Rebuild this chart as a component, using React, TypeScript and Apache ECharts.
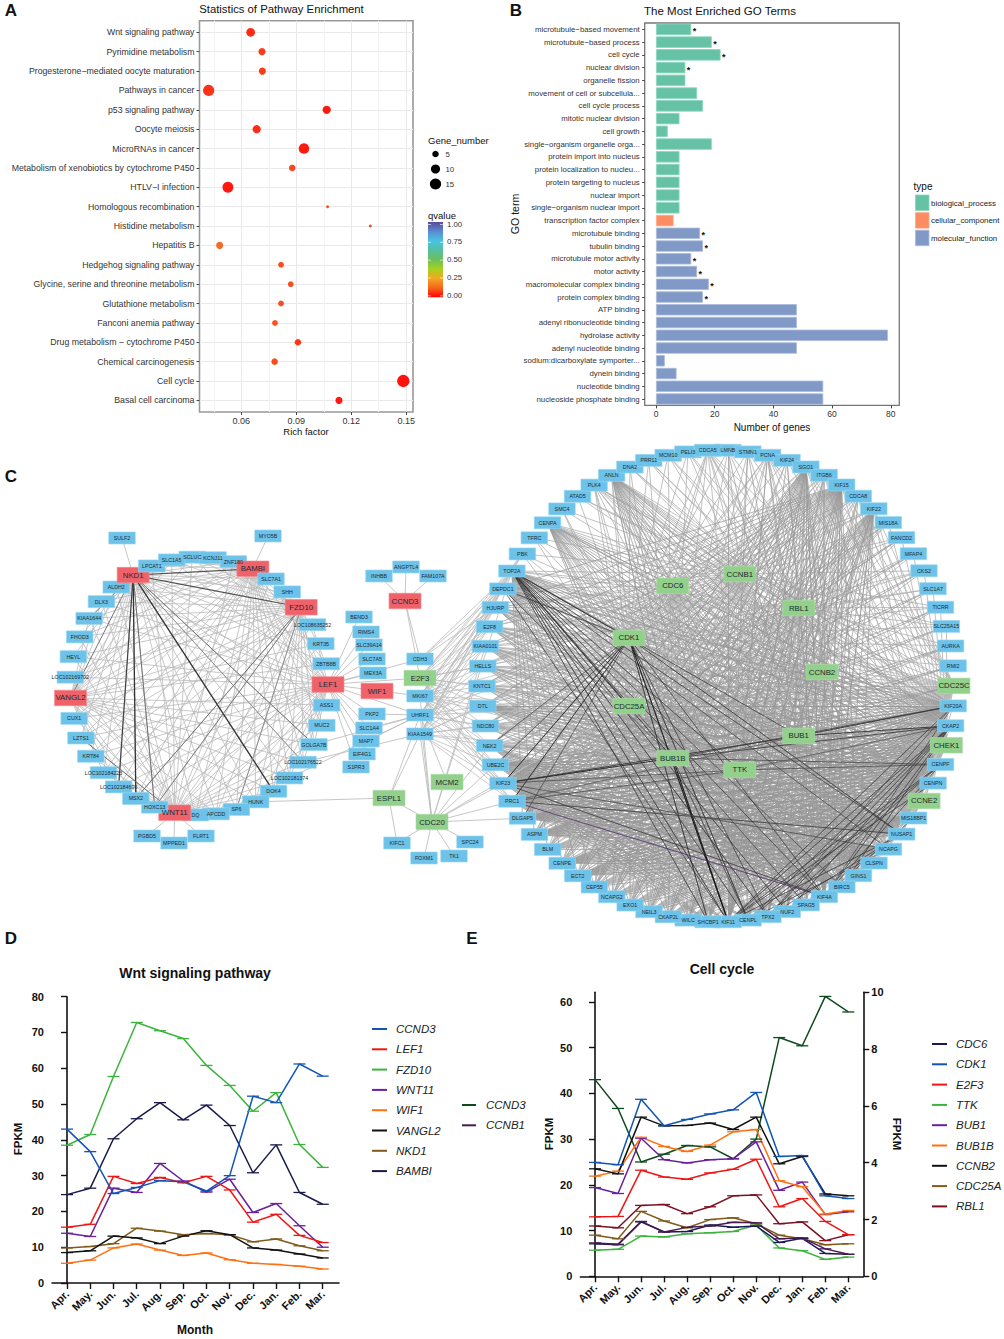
import React, { useEffect, useRef } from "react";
import * as echarts from "echarts";

const FONT = "'Liberation Sans', Arial, sans-serif";

// ---------- Panel A ----------
const pathways = ["Wnt signaling pathway","Pyrimidine metabolism","Progesterone−mediated oocyte maturation","Pathways in cancer","p53 signaling pathway","Oocyte meiosis","MicroRNAs in cancer","Metabolism of xenobiotics by cytochrome P450","HTLV−I infection","Homologous recombination","Histidine metabolism","Hepatitis B","Hedgehog signaling pathway","Glycine, serine and threonine metabolism","Glutathione metabolism","Fanconi anemia pathway","Drug metabolism − cytochrome P450","Chemical carcinogenesis","Cell cycle","Basal cell carcinoma"];
const richFactor = [0.0651,0.0713,0.0715,0.0422,0.1066,0.0684,0.0942,0.0878,0.0527,0.1071,0.1304,0.0482,0.0817,0.087,0.0817,0.0784,0.0909,0.0782,0.1484,0.1133];
const geneNumber = [9,6,6,15,8,8,13,5,14,1,1,6,4,4,4,4,5,5,18,6];
const qValue = [0.04,0.06,0.06,0.05,0.015,0.04,0.015,0.075,0.015,0.08,0.08,0.12,0.085,0.085,0.085,0.09,0.055,0.08,0.008,0.015];
const richTicks = [0.06,0.09,0.12,0.15];
const richMinorTicks = [0.045,0.075,0.105,0.135];

// ---------- Panel B ----------
const goTerms = ["microtubule−based movement","microtubule−based process","cell cycle","nuclear division","organelle fission","movement of cell or subcellula...","cell cycle process","mitotic nuclear division","cell growth","single−organism organelle orga...","protein import into nucleus","protein localization to nucleu...","protein targeting to nucleus","nuclear import","single−organism nuclear import","transcription factor complex","microtubule binding","tubulin binding","microtubule motor activity","motor activity","macromolecular complex binding","protein complex binding","ATP binding","adenyl ribonucleotide binding","hydrolase activity","adenyl nucleotide binding","sodium:dicarboxylate symporter...","dynein binding","nucleotide binding","nucleoside phosphate binding"];
const goCounts = [12,19,22,10,10,14,16,8,4,19,8,8,8,8,8,6,15,16,12,14,18,16,48,48,79,48,3,7,57,57];
const goTypes = ["bp","bp","bp","bp","bp","bp","bp","bp","bp","bp","bp","bp","bp","bp","bp","cc","mf","mf","mf","mf","mf","mf","mf","mf","mf","mf","mf","mf","mf","mf"];
const goStarred = [1,1,1,1,0,0,0,0,0,0,0,0,0,0,0,0,1,1,1,1,1,1,0,0,0,0,0,0,0,0];
const goTicks = [0,20,40,60,80];

// ---------- Panels D and E ----------
const months = ["Apr.","May.","Jun.","Jul.","Aug.","Sep.","Oct.","Nov.","Dec.","Jan.","Feb.","Mar."];
const monthIndex = [0,1,2,3,4,5,6,7,8,9,10,11];
const CCND3 = [43,36.7,25,26.7,28.6,28.3,25.7,30,52.2,50.4,61.2,57.8];
const LEF1v = [15.6,16.4,29.8,27.8,29.5,28,29.8,26,17,19.2,13.3,11.3];
const FZD10v = [38.5,41.5,57.7,72.8,70.5,68.3,60.8,55.2,48,53.2,38.7,32.3];
const WNT11v = [13.9,13,26.5,25.3,33.4,28.5,25.4,29,19.7,22.2,16,10];
const WIF1v = [5.5,6.4,9.8,10.9,9.2,7.7,8.4,6.5,5.5,5.2,4.7,3.9];
const VANGL2v = [8.5,9,13.1,12.6,11,13.1,14.6,13.5,9.8,9.2,8.1,7];
const NKD1v = [9.8,10.2,11,15.3,14.5,13.5,13.8,13.5,11.5,12.3,10.4,9];
const BAMBIv = [24.7,26.5,40.3,45.9,50.4,45.6,49.7,44,30.8,38.6,25.3,22];
const CDC6v = [7.1,6.9,11.9,9.7,9.8,11.2,10.7,11,7.4,8.3,5,4.8];
const CDK1v = [24.9,24.4,38.7,32.9,34.3,35.5,36.4,40.2,26.2,26.4,17.6,17];
const E2F3v = [13,13.1,23.2,21.7,21.2,22.6,23.4,25.6,15.2,17,12,9.1];
const TTKv = [5.7,5.9,8.8,8.6,9.3,9.5,9.8,11.2,6.2,5.6,3.7,4.2];
const BUB1v = [19.4,18.1,30.2,25.5,24.8,25.5,25.7,29.4,18.8,20.6,13.5,14.1];
const BUB1Bv = [21.9,23,30.4,28.4,27.3,28.7,31.6,32.1,20.9,19.6,13.6,14.4];
const CCNB2v = [23.5,22.4,34.8,32.9,33,33.5,32.1,34.8,24.6,26.2,18,17.6];
const CDC25Av = [9,8.2,14.2,12.1,10.6,12.4,12.8,11.5,9,8.2,6.9,7.1];
const RBL1v = [11,10.6,15.5,15.7,13.7,15.2,17.6,17.8,11.5,11.9,7.8,9.1];
const CCNB1v = [7.3,7,12,9.7,10.7,11,11.8,11.7,8.2,8.4,6,4.8];
const wntTicks = [0,10,20,30,40,50,60,70,80];
const cellLeftTicks = [0,10,20,30,40,50,60];
const cellRightTicks = [0,2,4,6,8,10];

// ---------- Panel C: network ----------
const leftRing = ["SCLUC","KCNJ11","ZNF180","BAMBI","SLC7A1","SHH","FZD10","LOC108635252","KRT35","ZBTB8B","LEF1","ASS1","MUC2","GOLGA7B","LOC102176522","LOC102181374","DOK4","HUNK","SP6","APCDD","DQ","WNT11","HOXC13","MSX2","LOC102184696","LOC102184223","KRT84","LZTS1","CUX1","VANGL2","LOC102169702","HEYL","FHOD3","KIAA1644","DLX3","ALDH2","NKD1","LPCAT1","SLC1A5"];
const leftHubs = ["NKD1","BAMBI","FZD10","LEF1","VANGL2","WNT11"];
const leftHubSkips: Record<string,string[]> = {
  NKD1: ["ALDH2","DLX3","LPCAT1","SLC1A5","SCLUC","KCNJ11","LOC102169702"],
  BAMBI: ["ZNF180","KCNJ11","SLC7A1","SHH","SCLUC","KRT35","HEYL"],
  FZD10: ["SHH","SLC7A1","LOC108635252","KRT35","ZNF180","ASS1"],
  LEF1: ["ZBTB8B","ASS1","KRT35","MUC2","FHOD3","LPCAT1"],
  VANGL2: ["CUX1","LOC102169702","HEYL","LZTS1","KRT84","FHOD3","SP6"],
  WNT11: ["DQ","APCDD","HOXC13","MSX2","SP6","LOC102184696","HUNK","KCNJ11"],
};

const rightTop = ["LMNB","STMN1","PCNA","KIF24","SGO1","ITGB6","KIF15","CDCA8","KIF22"];
const rightUpper = ["MIS18A","FANCD2","MFAP4","CKS2","SLC1A7","TICRR","SLC25A15","AURKA","RMI2","CDC25C"];
const rightLower = ["KIF20A","CKAP2","CHEK1","CENPF","CENPN","CCNE2","MIS18BP1","NUSAP1","NCAPG","CLSPN"];
const rightBottomR = ["GINS1","BIRC5","KIF4A","SPAG5","NUF2","TPX2","CENPL","KIF11","SHCBP1"];
const rightBottomL = ["WILC","CKAP2L","NEIL3","EXO1","NCAPG2","CEP55","ECT2","CENPE","BLM","ASPM","DLGAP5"];
const rightLeft = ["PRC1","KIF23","UBE2C","NEK2","NDC80","DTL","KNTC1","HELLS","KIAA0101","E2F8","HJURP","DEPDC1"];
const rightUpperL = ["TOP2A","PBK","TFRC","CENPA","SMC4","ATAD5","PLK4","ANLN","DNA2","PRR11","MCM10","PELI3","CDCA5"];
const rightRing = [...rightTop,...rightUpper,...rightLower,...rightBottomR,...rightBottomL,...rightLeft,...rightUpperL];
const innerRing = ["CCNB1","RBL1","CCNB2","BUB1","TTK","BUB1B","CDC25A","CDK1","CDC6"];
const rightOuterHubs = ["CDC25C","CHEK1","CCNE2"];
const rightHubSkips: Record<string,string[]> = {
  CCNB1: ["SLC1A7","MFAP4","AURKA"],
  RBL1: ["PBK","TFRC","SMC4","HELLS","E2F8"],
  CCNB2: ["PRR11","DNA2","KIAA0101"],
  BUB1: ["SLC25A15","TICRR","CKS2"],
  TTK: ["FANCD2","MIS18A","CDCA8"],
  BUB1B: ["SLC25A15","ATAD5"],
  CDC25A: ["STMN1","NUF2","FANCD2","KIF22"],
  CDK1: ["MFAP4"],
  CDC6: ["SLC1A7","CKS2","BLM"],
  CDC25C: ["RMI2","AURKA","KIF20A","CKAP2","SLC25A15","TICRR","CENPF","MIS18A"],
  CHEK1: ["CKAP2","CENPF","KIF20A","CENPN","CCNE2","RMI2","AURKA"],
  CCNE2: ["CENPN","MIS18BP1","CENPF","NUSAP1","CHEK1","NCAPG"],
};
// Ring genes with few partners in the upper half: only these hubs reach them.
const sparseGenes = ["PBK","TFRC","SMC4","ATAD5","DNA2","PRR11","MCM10","PELI3","LMNB","STMN1","KIF24","MIS18A","FANCD2","MFAP4","CKS2","SLC1A7","TICRR","SLC25A15","AURKA","RMI2"];
const sparseHubs = ["CCNB1","CDK1","RBL1","BUB1B","CHEK1"];
// Ring genes that carry their own fan of chords, with the ring stretches they reach.
const chordFans: [string, string[][]][] = [
  ["TOP2A",[rightBottomR,rightLower,rightBottomL]],
  ["KIF15",[rightBottomL,rightLeft,rightBottomR]],
  ["KIF22",[rightBottomR,rightBottomL]],
  ["KIF11",[rightLower,rightTop]],
  ["KIF4A",[rightLeft,rightTop]],
  ["PRC1",[rightLower,rightUpper,rightBottomR]],
  ["KIF23",[rightLower,rightUpper,rightBottomR]],
  ["CENPF",[rightBottomL,rightLeft]],
  ["CKAP2",[rightBottomL,rightBottomR]],
  ["SGO1",[rightBottomL,rightBottomR]],
  ["CENPA",[rightBottomR,rightLower]],
  ["ANLN",[rightLower,rightBottomR]],
  ["NUSAP1",[rightLeft]],
  ["ASPM",[rightLower]],["CENPE",[rightLower]],["DLGAP5",[rightLower]],["ECT2",[rightLower]],
  ["NCAPG",[rightBottomL]],["CLSPN",[rightLeft]],["BIRC5",[rightLeft]],
  ["CENPN",[rightBottomL,rightLeft]],["KIF20A",[rightBottomL,rightLeft]],["MIS18BP1",[rightBottomL]],
  ["DTL",[rightLower]],["NEK2",[rightBottomR]],["UBE2C",[rightLower,rightBottomR]],
];

const satellites: [string, number, number][] = [
  ["SULF2",122,538],["MYO5B",268,536],["PGBD5",147,836],["MPPED1",174,843],["FLRT1",201,836],
  ["BEND3",359,617],["RIMS4",366,632],["SLC39A14",369,645],["SLC7A5",372,659],["MEX3A",373,673],["WIF1",377,691],
  ["PKP2",372,714],["SLC1A4",369,728],["MAP7",366,741],["EIF4G1",362,754],["S1PR3",356,767],
  ["CCND3",405,601],["INHBB",379,576],["ANGPTL4",406,567],["FAM107A",433,576],
  ["CDH3",420,659],["E2F3",420,678],["MKI67",420,696],["UHRF1",420,715],["KIAA1549",420,734],
  ["MCM2",447,782],["ESPL1",389,798],["CDC20",432,822],["KIFC1",397,843],["FOXM1",424,858],["TK1",454,856],["SPC24",470,842],
];
const redNodes = ["NKD1","BAMBI","FZD10","LEF1","WIF1","VANGL2","WNT11","CCND3"];
const greenNodes = ["CCNB1","RBL1","CCNB2","BUB1","TTK","BUB1B","CDC25A","CDK1","CDC6","CDC25C","CHEK1","CCNE2","E2F3","MCM2","ESPL1","CDC20"];

const plainLinks: [string,string][] = [
  ["SULF2","NKD1"],["MYO5B","BAMBI"],["PGBD5","WNT11"],["MPPED1","WNT11"],["FLRT1","WNT11"],
  ["BEND3","LEF1"],["RIMS4","LEF1"],["SLC39A14","LEF1"],["SLC7A5","LEF1"],["MEX3A","LEF1"],["PKP2","LEF1"],["SLC1A4","LEF1"],["MAP7","LEF1"],["EIF4G1","LEF1"],["S1PR3","LEF1"],
  ["CDH3","LEF1"],["E2F3","LEF1"],["UHRF1","LEF1"],["MKI67","LEF1"],
  ["CCND3","INHBB"],["CCND3","ANGPTL4"],["CCND3","FAM107A"],["CCND3","CDH3"],["CCND3","E2F3"],
  ["PKP2","UHRF1"],["SLC1A4","UHRF1"],["MAP7","UHRF1"],["GOLGA7B","UHRF1"],["LOC102176522","KIAA1549"],["LOC102181374","UHRF1"],
  ["KIAA1549","ESPL1"],["UHRF1","ESPL1"],["MKI67","CDC20"],["UHRF1","CDC20"],["KIAA1549","CDC20"],["MCM2","UHRF1"],
  ["ESPL1","HUNK"],["ESPL1","CDC20"],["ESPL1","KIFC1"],["CDC20","KIFC1"],["CDC20","FOXM1"],["CDC20","TK1"],["CDC20","SPC24"],
  ["CDC20","PRC1"],["CDC20","KIF23"],["CDC20","UBE2C"],["CDC20","NEK2"],["CDC20","DLGAP5"],["CDC20","KIAA0101"],["CDC20","TOP2A"],["CDC20","CDC25A"],
  ["CDH3","TOP2A"],["CDH3","DEPDC1"],["CDH3","HJURP"],
];
// Left-side mid nodes that fan into the big ring.
const midFanSources = ["E2F3","MKI67","UHRF1","KIAA1549"];

const darkLinks: [string,string,string,number][] = [
  ["NKD1","BAMBI","#444",1.2],["NKD1","FZD10","#444",1.2],["NKD1","DOK4","#222",1.3],["NKD1","MSX2","#222",1.3],["NKD1","LOC102184696","#333",1.2],
  ["NKD1","HOXC13","#666",1],["NKD1","GOLGA7B","#666",1],["NKD1","LOC102176522","#888",1],["NKD1","VANGL2","#666",1],["NKD1","KIAA1644","#777",1],
  ["FZD10","MSX2","#666",1],["FZD10","HOXC13","#777",1],["WNT11","LZTS1","#666",1],["FZD10","SP6","#888",1],
  ["TOP2A","CDK1","#222",0.8],["TOP2A","CDC25A","#222",0.8],["TOP2A","BUB1B","#222",0.9],["TOP2A","TTK","#333",0.8],["TOP2A","BUB1","#333",0.8],["TOP2A","KIF11","#222",0.8],["TOP2A","NUSAP1","#333",0.8],["TOP2A","KIF4A","#333",0.8],["TOP2A","TPX2","#222",0.8],["TOP2A","NUF2","#333",0.8],["TOP2A","CENPL","#333",0.8],["TOP2A","SPAG5","#444",0.8],["TOP2A","BIRC5","#444",0.8],["TOP2A","NCAPG","#444",0.8],["TOP2A","SHCBP1","#333",0.8],
  ["DEPDC1","KIF11","#333",0.8],["DEPDC1","CDK1","#333",0.8],["DEPDC1","BUB1B","#444",0.8],
  ["CDK1","KIF23","#111",0.9],["CDK1","PRC1","#111",0.9],["CDK1","KIF11","#111",1.1],["CDK1","SHCBP1","#222",0.9],["CDK1","TPX2","#333",0.8],["CDK1","KIF4A","#333",0.8],["CDK1","NUSAP1","#222",0.8],["CDK1","CENPL","#222",0.9],["CDK1","UBE2C","#333",0.8],["CDK1","NEK2","#444",0.8],["CDK1","DLGAP5","#444",0.8],
  ["BUB1B","KIF11","#111",1.1],["BUB1B","KIF23","#222",1],["BUB1B","CKAP2","#333",0.9],["BUB1B","KIF20A","#444",0.9],["BUB1B","CENPF","#444",0.8],["BUB1B","CENPL","#333",0.8],
  ["BUB1","KIF23","#333",1],["BUB1","CKAP2","#333",1],["BUB1","KIF20A","#333",1],["BUB1","PRC1","#555",0.8],
  ["TTK","KIF23","#444",0.8],["TTK","PRC1","#444",0.8],["TTK","CENPF","#444",0.8],["TTK","CKAP2","#555",0.8],
  ["PRC1","NUSAP1","#333",0.8],["KIF23","KIF4A","#333",0.8],["PRC1","KIF4A","#4a2a6a",0.8],["KIF23","NCAPG","#444",0.8],
  ["CKAP2","KIF11","#333",0.8],["CKAP2","KIF4A","#333",0.8],["CKAP2","TPX2","#333",0.8],["CKAP2","NUF2","#333",0.8],["CKAP2","CENPL","#333",0.8],["CKAP2","BIRC5","#333",0.8],
  ["CENPF","KIF11","#333",0.8],["CENPF","KIF4A","#333",0.8],["CENPF","TPX2","#333",0.8],["CENPF","CENPL","#333",0.8],["CENPN","KIF11","#333",0.8],["KIF20A","KIF11","#333",0.8],["KIF20A","TPX2","#444",0.8],["KIF20A","KIF4A","#444",0.8],
  ["MIS18BP1","KIF4A","#333",0.8],["NUSAP1","KIF11","#333",0.8],["NUSAP1","TPX2","#333",0.8],["NCAPG","CENPL","#333",0.8],
];

// ---------- Colours ----------
const goColors: Record<string,[string,string]> = {
  bp: ["#66C2A5","#8ad6bd"], cc: ["#FC8D62","#fdaa8a"], mf: ["#8099C6","#a9bbdb"],
};
const qColors = ["#ff0000","#f5651c","#f5a623","#a6d21e","#6cc05a","#55bfa0","#46c4e6","#5b8ad0","#5a4a9e"];

function ringNodes(names: string[], cx: number, cy: number, r: number, startDeg: number) {
  return names.map((name, i) => {
    const a = ((startDeg + (360 * i) / names.length) * Math.PI) / 180;
    return { name, value: [cx + r * Math.sin(a), cy - r * Math.cos(a)] };
  });
}

function buildNetwork() {
  const positioned = [
    ...ringNodes(leftRing, 199, 686, 129, -3),
    ...ringNodes(rightRing, 718, 686, 236, 2.4),
    ...ringNodes(innerRing, 722.5, 672, 99.5, 10),
    ...satellites.map(([name, x, y]) => ({ name, value: [x, y] })),
  ];
  const nodes = positioned.map((n) => {
    const red = redNodes.includes(n.name);
    const green = greenNodes.includes(n.name);
    const big = red || green;
    return {
      ...n,
      symbol: "rect",
      symbolSize: big ? [32, 15.5] : [26.5, 12],
      itemStyle: {
        color: red ? "#F0626A" : green ? "#92D08C" : "#6CC2E8",
        borderColor: red ? "#f48a90" : green ? "#aedcaa" : "#98d6f1",
        borderWidth: 0.6,
      },
      label: {
        show: true, position: "inside",
        fontSize: big ? 7.8 : 5.3, fontFamily: FONT, color: "#1c2a30",
      },
    };
  });
  const grey = { color: "#adadad", width: 0.9, opacity: 0.85, curveness: 0 };
  const midGrey = { color: "#989898", width: 0.85, opacity: 0.85, curveness: 0 };
  const links: any[] = [];
  const add = (source: string, target: string, lineStyle: any = grey) => {
    if (source !== target) links.push({ source, target, lineStyle });
  };
  const leftTargets = leftRing.filter((n) => !leftHubs.includes(n));
  leftHubs.forEach((h) => leftTargets.forEach((t) => {
    if (!leftHubSkips[h].includes(t)) add(h, t, { ...grey, color: "#b8b8b8" });
  }));
  const blueRight = rightRing.filter((n) => !rightOuterHubs.includes(n));
  [...innerRing, ...rightOuterHubs].forEach((h) => blueRight.forEach((t) => {
    if (rightHubSkips[h].includes(t)) return;
    if (sparseGenes.includes(t) && !sparseHubs.includes(h)) return;
    add(h, t);
  }));
  chordFans.forEach(([h, groups]) => groups.forEach((g) => g.forEach((t) => add(h, t, midGrey))));
  midFanSources.forEach((h) => {
    [...rightLeft, "TOP2A", "PBK"].forEach((t) => add(h, t, { ...grey, color: "#bcbcbc" }));
    ["CDK1","CDC25A","BUB1B"].forEach((t) => add(h, t, { ...grey, color: "#bcbcbc" }));
  });
  plainLinks.forEach(([a, b]) => add(a, b, { ...grey, color: "#bcbcbc", width: 1 }));
  darkLinks.forEach(([a, b, color, width]) => add(a, b, { color, width, opacity: 0.9, curveness: 0 }));
  return { nodes, links };
}

// ---------- Helpers ----------
const labelText = (text: string, x: number, y: number, font: string, extra: any = {}, rotation = 0) => ({
  type: "text", x, y, rotation, silent: true,
  style: { text, font: `${font} ${FONT}`, fill: "#111", textAlign: "center", textVerticalAlign: "middle", ...extra },
});

const lineSeries = (name: string, values: number[], color: string, x: number, y: number) => ({
  type: "line", name, xAxisIndex: x, yAxisIndex: y,
  data: values.map((v, i) => [monthIndex[i], v]),
  symbol: "rect", symbolSize: [12, 1.3], showSymbol: true, showAllSymbol: true,
  lineStyle: { color, width: 1.5 }, itemStyle: { color }, z: 3,
});

const lineLegend = (names: [string,string][], left: number, top: number) => ({
  show: true, orient: "vertical", left, top, padding: 0, selectedMode: false,
  itemWidth: 15, itemHeight: 2, itemGap: 8.3, icon: "rect",
  textStyle: { fontFamily: FONT, fontSize: 11.5, fontStyle: "italic", color: "#222", lineHeight: 12, padding: [0,0,0,4] },
  data: names.map(([name, color]) => ({ name, itemStyle: { color }, textStyle: { fontStyle: "italic" } })),
});

const prismAxisY = (gridIndex: number, min: number, max: number, ticks: number[], position = "left") => ({
  type: "value", gridIndex, min, max, position,
  axisLine: { show: true, lineStyle: { color: "#111", width: 1.6 } },
  axisTick: { show: true, length: 6, lineStyle: { color: "#111", width: 1.4 }, customValues: ticks },
  axisLabel: { customValues: ticks, fontFamily: FONT, fontWeight: "bold", fontSize: 11, color: "#111", margin: 8, showMinLabel: true, showMaxLabel: true },
  splitLine: { show: false },
});

const prismAxisX = (gridIndex: number, min: number, max: number) => ({
  type: "value", gridIndex, min, max,
  axisLine: { show: true, onZero: false, lineStyle: { color: "#111", width: 1.6 } },
  axisTick: { show: true, length: 6, lineStyle: { color: "#111", width: 1.4 }, customValues: monthIndex },
  axisLabel: {
    customValues: monthIndex, formatter: (v: number) => months[v], rotate: 45, margin: 9,
    fontFamily: FONT, fontWeight: "bold", fontSize: 11, color: "#111", showMinLabel: true, showMaxLabel: true,
  },
  splitLine: { show: false },
});

export default function App() {
  const ref = useRef<HTMLDivElement>(null);
  useEffect(() => {
    const chart = echarts.init(ref.current!, undefined, { renderer: "svg" });
    const { nodes, links } = buildNetwork();
    const grayAxisLabel = { fontFamily: FONT, color: "#333" };

    const option: any = {
      animation: false,
      backgroundColor: "#fff",
      textStyle: { fontFamily: FONT },
      grid: [
        { left: 199.5, top: 20.7, width: 213.5, height: 391.3, show: true, borderColor: "#999", borderWidth: 1.6, backgroundColor: "#fff" },
        { left: 644.7, top: 23, width: 254.6, height: 382.4, show: true, borderColor: "#777", borderWidth: 1.3, backgroundColor: "#fff" },
        { left: 0, top: 0, width: 1004, height: 1339 },
        { left: 52, top: 996.7, width: 287, height: 286.3 },
        { left: 580.3, top: 992.3, width: 283, height: 284 },
      ],
      xAxis: [
        {
          type: "value", gridIndex: 0, min: 0.0372, max: 0.1537, position: "bottom",
          axisLine: { show: false, onZero: false },
          axisTick: { show: true, length: 3, lineStyle: { color: "#444" }, customValues: richTicks },
          axisLabel: { customValues: richTicks, ...grayAxisLabel, fontSize: 9, margin: 4, formatter: (v: number) => v.toFixed(2) },
          splitLine: { show: true, lineStyle: { color: "#e9e9e9", width: 1.1 } },
        },
        {
          type: "value", gridIndex: 0, min: 0.0372, max: 0.1537, position: "bottom",
          axisLine: { show: false, onZero: false }, axisLabel: { show: false },
          axisTick: { show: false, customValues: richMinorTicks },
          splitLine: { show: true, lineStyle: { color: "#f3f3f3", width: 1 } },
        },
        {
          type: "value", gridIndex: 1, min: -3.85, max: 82.9, position: "bottom",
          axisLine: { show: false, onZero: false },
          axisTick: { show: true, length: 3, lineStyle: { color: "#444" }, customValues: goTicks },
          axisLabel: { customValues: goTicks, ...grayAxisLabel, fontSize: 8.5, margin: 4 },
          splitLine: { show: false },
        },
        { type: "value", gridIndex: 2, min: 0, max: 1004, show: false },
        prismAxisX(3, -0.645, 11.7),
        prismAxisX(4, -0.638, 11.65),
      ],
      yAxis: [
        {
          type: "value", gridIndex: 0, min: -0.6, max: 19.6, inverse: true,
          axisLine: { show: false, onZero: false },
          axisTick: { show: true, length: 3, lineStyle: { color: "#444" }, customValues: pathways.map((_, i) => i) },
          axisLabel: { customValues: pathways.map((_, i) => i), formatter: (v: number) => pathways[v], ...grayAxisLabel, fontSize: 8.75, margin: 5 },
          splitLine: { show: true, lineStyle: { color: "#e9e9e9", width: 1.1 } },
        },
        {
          type: "category", gridIndex: 1, inverse: true, data: goTerms,
          axisLine: { show: false, onZero: false },
          axisTick: { show: true, alignWithLabel: true, length: 2.5, lineStyle: { color: "#444" } },
          axisLabel: { interval: 0, ...grayAxisLabel, fontSize: 7.8, margin: 5 },
          splitLine: { show: false },
        },
        { type: "value", gridIndex: 2, min: 0, max: 1339, inverse: true, show: false },
        prismAxisY(3, 0, 80, wntTicks),
        prismAxisY(4, 0, 62.1, cellLeftTicks),
        prismAxisY(4, 0, 10, cellRightTicks, "right"),
      ],
      visualMap: {
        show: false, type: "continuous", seriesIndex: 0, dimension: 3, min: 0, max: 1,
        inRange: { color: qColors },
      },
      legend: [
        lineLegend([["CCND3","#1155B5"],["LEF1","#F01515"],["FZD10","#3CB33C"],["WNT11","#6A1FA0"],["WIF1","#FF7010"],["VANGL2","#111111"],["NKD1","#7F5A1A"],["BAMBI","#1A1A4A"]], 372, 1023),
        { ...lineLegend([["CCND3","#0F4A1E"],["CCNB1","#4A1A4F"]], 462, 1099), itemWidth: 14, textStyle: { fontFamily: FONT, fontSize: 11.5, fontStyle: "italic", color: "#222", lineHeight: 12, padding: [0,0,0,5] } },
        lineLegend([["CDC6","#1A1A5A"],["CDK1","#1155B5"],["E2F3","#F01515"],["TTK","#3CB33C"],["BUB1","#6A1FA0"],["BUB1B","#FF7010"],["CCNB2","#111111"],["CDC25A","#7F5A1A"],["RBL1","#7A1020"]], 932, 1038),
      ],
      series: [
        {
          type: "scatter", xAxisIndex: 0, yAxisIndex: 0,
          data: pathways.map((_, i) => [richFactor[i], i, geneNumber[i], qValue[i]]),
          symbolSize: (d: number[]) => 2.9 * Math.sqrt(d[2]),
          itemStyle: { opacity: 0.95 }, z: 3,
        },
        {
          type: "bar", xAxisIndex: 2, yAxisIndex: 1, barWidth: "89%",
          data: goCounts.map((v, i) => ({
            value: v,
            itemStyle: { color: goColors[goTypes[i]][0], borderColor: goColors[goTypes[i]][1], borderWidth: 0.8 },
            label: goStarred[i]
              ? { show: true, position: "right", distance: 1.5, formatter: "*", fontSize: 9, fontWeight: "bold", color: "#111", offset: [0, 2] }
              : { show: false },
          })),
        },
        {
          type: "graph", coordinateSystem: "cartesian2d", xAxisIndex: 3, yAxisIndex: 2,
          layout: "none", roam: false, silent: true, emphasis: { disabled: true },
          data: nodes, links, edgeSymbol: ["none", "none"], z: 2,
        },
        lineSeries("NKD1", NKD1v, "#7F5A1A", 4, 3),
        lineSeries("WIF1", WIF1v, "#FF7010", 4, 3),
        lineSeries("VANGL2", VANGL2v, "#111111", 4, 3),
        lineSeries("WNT11", WNT11v, "#6A1FA0", 4, 3),
        lineSeries("LEF1", LEF1v, "#F01515", 4, 3),
        lineSeries("BAMBI", BAMBIv, "#1A1A4A", 4, 3),
        lineSeries("FZD10", FZD10v, "#3CB33C", 4, 3),
        lineSeries("CCND3", CCND3, "#1155B5", 4, 3),
        lineSeries("CCND3", CCND3, "#0F4A1E", 5, 4),
        lineSeries("TTK", TTKv, "#3CB33C", 5, 4),
        lineSeries("CDC25A", CDC25Av, "#7F5A1A", 5, 4),
        lineSeries("CDC6", CDC6v, "#1A1A5A", 5, 4),
        lineSeries("CCNB1", CCNB1v, "#4A1A4F", 5, 4),
        lineSeries("RBL1", RBL1v, "#7A1020", 5, 4),
        lineSeries("E2F3", E2F3v, "#F01515", 5, 4),
        lineSeries("BUB1", BUB1v, "#6A1FA0", 5, 4),
        lineSeries("BUB1B", BUB1Bv, "#FF7010", 5, 4),
        lineSeries("CCNB2", CCNB2v, "#111111", 5, 4),
        lineSeries("CDK1", CDK1v, "#1155B5", 5, 4),
      ],
      graphic: [
        labelText("A", 11, 10, "bold 17px"),
        labelText("B", 516, 10, "bold 17px"),
        labelText("C", 11, 476, "bold 17px"),
        labelText("D", 11, 938, "bold 17px"),
        labelText("E", 472, 938, "bold 17px"),
        labelText("Statistics of Pathway Enrichment", 281.5, 9, "11.3px"),
        labelText("Rich factor", 306, 431, "9.5px"),
        labelText("Gene_number", 428, 140, "9.5px", { textAlign: "left" }),
        ...geneSizeKey(),
        labelText("qvalue", 428, 215, "9.5px", { textAlign: "left" }),
        {
          type: "rect", silent: true, shape: { x: 428, y: 222, width: 15, height: 75.3 },
          style: { fill: new echarts.graphic.LinearGradient(0, 1, 0, 0, qColors.map((color, i) => ({ offset: i / (qColors.length - 1), color }))) },
        },
        ...["1.00","0.75","0.50","0.25","0.00"].map((t, i) =>
          labelText(t, 447, 224 + i * 17.9, "7.8px", { textAlign: "left", fill: "#333" })),
        ...["1.00","0.75","0.50","0.25","0.00"].flatMap((_, i) => [
          { type: "rect", silent: true, shape: { x: 428, y: 224 + i * 17.9, width: 3, height: 0.6 }, style: { fill: "#fff" } },
          { type: "rect", silent: true, shape: { x: 440, y: 224 + i * 17.9, width: 3, height: 0.6 }, style: { fill: "#fff" } },
        ]),
        labelText("The Most Enriched GO Terms", 720, 10.5, "11.5px"),
        labelText("Number of genes", 772, 427.5, "10px"),
        labelText("GO term", 515, 214, "10.5px", {}, Math.PI / 2),
        labelText("type", 923, 186, "10px"),
        ...([["biological_process","bp"],["cellular_component","cc"],["molecular_function","mf"]] as [string,string][]).flatMap(([t, k], i) => [
          {
            type: "rect", silent: true, shape: { x: 915.5, y: 195 + i * 17.6, width: 13.5, height: 15.5 },
            style: { fill: goColors[k][0], stroke: goColors[k][1], lineWidth: 0.8 },
          },
          labelText(t, 931, 203 + i * 17.6, "7.9px", { textAlign: "left", fill: "#222" }),
        ]),
        labelText("Wnt signaling pathway", 195, 972.5, "bold 14px"),
        labelText("Month", 195, 1329.5, "bold 12px"),
        labelText("FPKM", 17.5, 1139, "bold 11.5px", {}, Math.PI / 2),
        labelText("Cell cycle", 722, 968.5, "bold 14px"),
        labelText("FPKM", 549, 1134, "bold 11.5px", {}, Math.PI / 2),
        labelText("FPKM", 897, 1134, "bold 11.5px", {}, -Math.PI / 2),
      ],
    };
    chart.setOption(option);
    return () => chart.dispose();
  }, []);
  return <div ref={ref} style={{ position: "absolute", left: 0, top: 0, width: 1004, height: 1339 }} />;
}

function geneSizeKey() {
  const sizes: [string, number][] = [["5", 154], ["10", 169], ["15", 184]];
  return sizes.flatMap(([t, y]) => [
    { type: "circle", silent: true, shape: { cx: 435.5, cy: y, r: (2.9 * Math.sqrt(Number(t))) / 2 }, style: { fill: "#000" } },
    labelText(t, 445.5, y, "7.8px", { textAlign: "left", fill: "#333" }),
  ]);
}
